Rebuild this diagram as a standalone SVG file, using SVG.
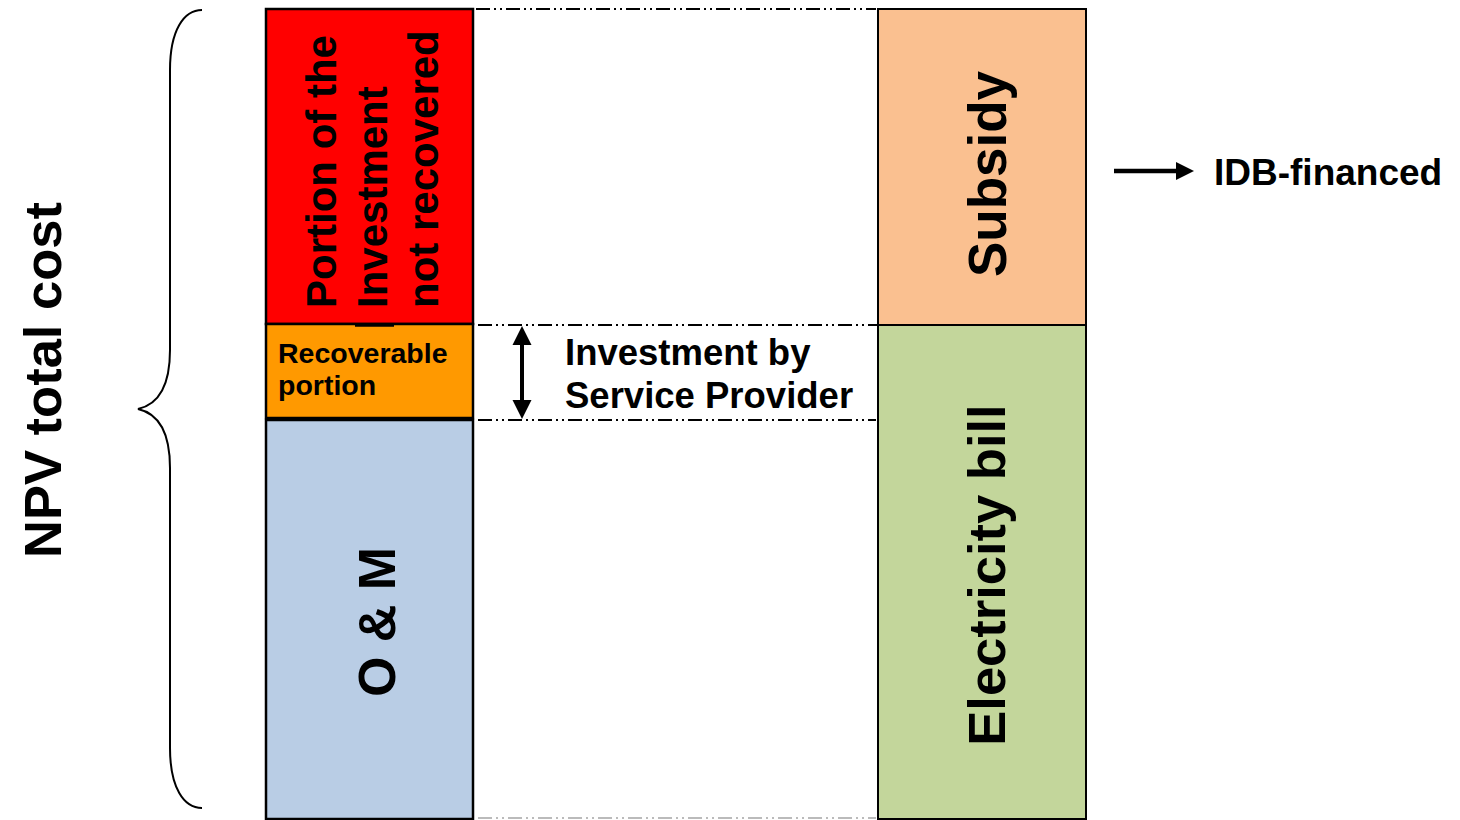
<svg xmlns="http://www.w3.org/2000/svg" width="1460" height="820" viewBox="0 0 1460 820">
<style>
text{font-family:"Liberation Sans",Arial,sans-serif;font-weight:bold;fill:#000}
.box{stroke:#000;stroke-width:2.5}
.dd{fill:none;stroke:#000;stroke-width:2;stroke-dasharray:14 4 2 4 2 4}
.head{fill:#000}
</style>
<rect width="1460" height="820" fill="#fff"/>
<g id="connectors">
<line class="dd" x1="476" y1="9" x2="876" y2="9"/>
<line class="dd" x1="478" y1="325" x2="878" y2="325"/>
<line class="dd" x1="478" y1="420" x2="876" y2="420"/>
<line class="dd" x1="478" y1="818" x2="876" y2="818" style="stroke:#bbb"/>
<line x1="522" y1="340" x2="522" y2="405" stroke="#000" stroke-width="4"/>
<polygon class="head" points="512.5,345 522,326 531.5,345"/>
<polygon class="head" points="512.5,400 522,419 531.5,400"/>
<line x1="1114" y1="171" x2="1180" y2="171" stroke="#000" stroke-width="4.5"/>
<polygon class="head" points="1176,162 1194,171 1176,180"/>
<path d="M202,10 C184,10 170,30 170,70 L170,350 C170,390 156,405 138,409 C156,413 170,428 170,468 L170,748 C170,788 184,808 202,808" fill="none" stroke="#000" stroke-width="2"/>
</g>
<g id="npv">
<text transform="translate(61,380) rotate(-90)" text-anchor="middle" font-size="52.5">NPV total cost</text>
</g>
<g id="not-recovered">
<rect class="box" x="266" y="9" width="207" height="315" fill="#FF0000"/>
<text transform="translate(336,308) rotate(-90)" font-size="42">Portion of the</text>
<text transform="translate(387,308) rotate(-90)" font-size="42">Investment</text>
<text transform="translate(438,308) rotate(-90)" font-size="42">not recovered</text>
</g>
<g id="recoverable">
<rect class="box" x="266" y="324" width="207" height="94" fill="#FF9900"/>
<line x1="355" y1="325" x2="394" y2="325" stroke="#000" stroke-width="3.5"/>
<text x="278" y="363" font-size="28.5">Recoverable</text>
<text x="278" y="395" font-size="28.5">portion</text>
</g>
<g id="om">
<rect class="box" x="266" y="420" width="207" height="399" fill="#B9CDE5"/>
<text transform="translate(395,622) rotate(-90)" text-anchor="middle" font-size="52">O &amp; M</text>
</g>
<g id="investment-label">
<text x="565" y="365" font-size="36.5">Investment by</text>
<text x="565" y="408" font-size="36.5">Service Provider</text>
</g>
<g id="subsidy">
<rect x="878" y="9" width="208" height="316" fill="#FAC090" stroke="#000" stroke-width="2"/>
<text transform="translate(1006,174) rotate(-90)" text-anchor="middle" font-size="53">Subsidy</text>
</g>
<g id="bill">
<rect x="878" y="325" width="208" height="494" fill="#C3D69B" stroke="#000" stroke-width="2"/>
<text transform="translate(1005,575) rotate(-90)" text-anchor="middle" font-size="52.5">Electricity bill</text>
</g>
<g id="idb">
<text x="1214" y="185" font-size="37">IDB-financed</text>
</g>
</svg>
